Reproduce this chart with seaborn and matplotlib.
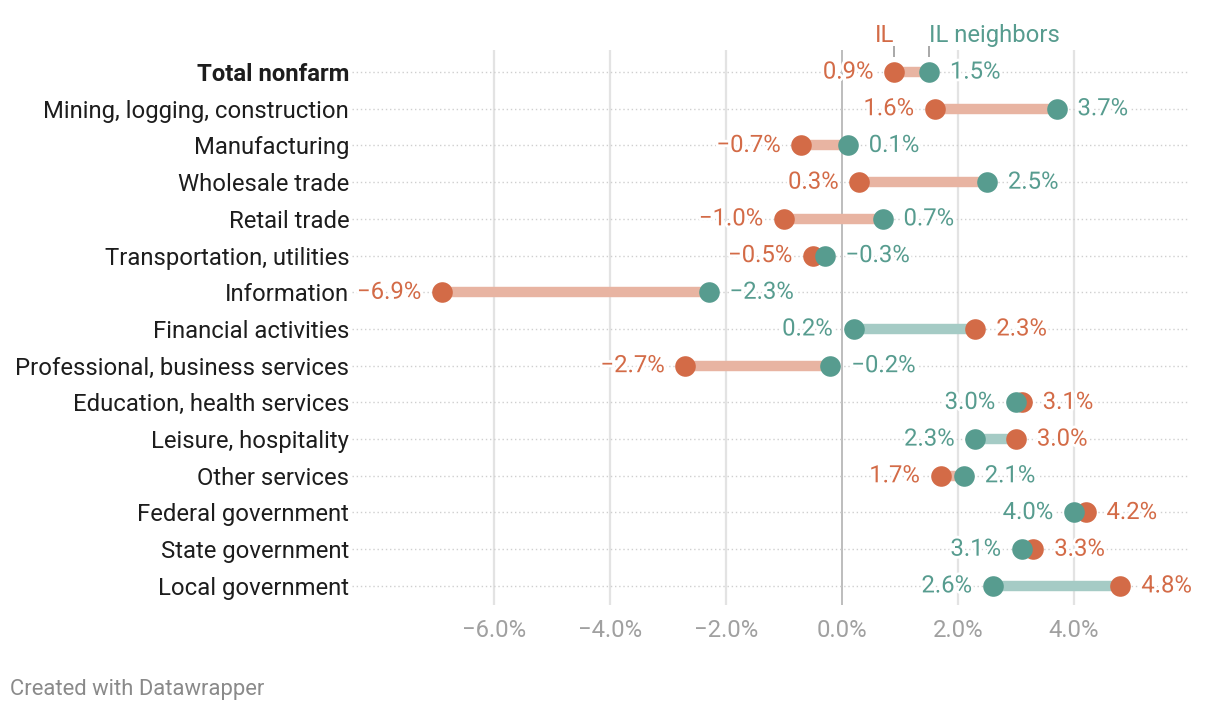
import matplotlib
matplotlib.use("Agg")
import matplotlib.pyplot as plt
import matplotlib.patheffects as pe
import seaborn as sns
import pandas as pd
import numpy as np

categories = ["Total nonfarm", "Mining, logging, construction", "Manufacturing",
              "Wholesale trade", "Retail trade", "Transportation, utilities",
              "Information", "Financial activities", "Professional, business services",
              "Education, health services", "Leisure, hospitality", "Other services",
              "Federal government", "State government", "Local government"]
il_values = [0.9, 1.6, -0.7, 0.3, -1.0, -0.5, -6.9, 2.3, -2.7, 3.1, 3.0, 1.7, 4.2, 3.3, 4.8]
nb_values = [1.5, 3.7, 0.1, 2.5, 0.7, -0.3, -2.3, 0.2, -0.2, 3.0, 2.3, 2.1, 4.0, 3.1, 2.6]
x_ticks = [-6, -4, -2, 0, 2, 4]
series_names = ["IL", "IL neighbors"]

ORANGE = "#d36b47"
TEAL = "#579c8f"
ORANGE_L = "#e8b4a2"
TEAL_L = "#a5cbc5"
FS = 17.2

sns.set_theme(style="white")
plt.rcParams["font.family"] = ["Roboto", "DejaVu Sans"]

df = pd.DataFrame({"category": categories, "IL": il_values, "NB": nb_values})
df["row"] = np.arange(len(df))

fig = plt.figure(figsize=(12.2, 7.14), dpi=100)
ax = fig.add_axes([352 / 1220, 1 - 605 / 714, (1190 - 352) / 1220, (605 - 50) / 714])

xmin, xmax = -8.45, 6.0
ax.set_xlim(xmin, xmax)
ax.set_ylim(len(df) - 0.48, -0.6)

# vertical grid
for t in x_ticks:
    ax.axvline(t, color="#bdbdbd" if t == 0 else "#e3e3e3", lw=1.4 if t == 0 else 1.6, zorder=0)
# horizontal dotted lines
ax.hlines(df["row"], xmin, 5.95, colors="#cfcfcf", linestyles=(0, (1, 2)), lw=1.0, zorder=0.5)

# range bars (colour of the lower end)
lo = df[["IL", "NB"]].min(axis=1)
hi = df[["IL", "NB"]].max(axis=1)
bar_cols = [ORANGE_L if a <= b else TEAL_L for a, b in zip(df["IL"], df["NB"])]
ax.hlines(df["row"], lo, hi, colors=bar_cols, lw=7.5, zorder=1)

sns.scatterplot(data=df, x="IL", y="row", color=ORANGE, s=220, linewidth=0, ax=ax, zorder=3)
sns.scatterplot(data=df, x="NB", y="row", color=TEAL, s=220, linewidth=0, ax=ax, zorder=4)

halo = [pe.withStroke(linewidth=4, foreground="white")]

def fmt(v):
    return f"{v:.1f}%".replace("-", "\u2212")

off = 0.36
for _, r in df.iterrows():
    pairs = [(r["IL"], ORANGE), (r["NB"], TEAL)]
    pairs.sort(key=lambda p: p[0])
    (lv, lc), (hv, hc) = pairs
    ax.text(lv - off, r["row"], fmt(lv), color=lc, ha="right", va="center",
            fontsize=FS, path_effects=halo, zorder=5)
    ax.text(hv + off, r["row"], fmt(hv), color=hc, ha="left", va="center",
            fontsize=FS, path_effects=halo, zorder=5)

# header legend above first row
ax.text(df["IL"][0], -1.0, series_names[0], color=ORANGE, ha="right", va="center",
        fontsize=FS, clip_on=False)
ax.text(df["NB"][0], -1.0, series_names[1], color=TEAL, ha="left", va="center",
        fontsize=FS, clip_on=False)
ax.vlines([df["IL"][0], df["NB"][0]], -0.72, -0.42, colors="#9a9a9a", lw=1.2, clip_on=False, zorder=2)

ax.set_yticks(df["row"])
ax.set_yticklabels(categories)
for lbl in ax.get_yticklabels():
    lbl.set_fontsize(FS)
    lbl.set_color("#1d1d1d")
ax.get_yticklabels()[0].set_fontweight("bold")
ax.tick_params(axis="y", length=0, pad=2)

ax.set_xticks(x_ticks)
ax.set_xticklabels([fmt(t) for t in x_ticks])
ax.tick_params(axis="x", length=0, pad=10, labelsize=FS, labelcolor="#a0a0a0")
ax.set_xlabel("")
ax.set_ylabel("")
for s in ax.spines.values():
    s.set_visible(False)
ax.grid(False)

fig.text(10 / 1220, 1 - 690 / 714, "Created with Datawrapper", color="#8a8a8a",
         fontsize=15.8, ha="left", va="center")

fig.savefig("out.png", dpi=100, facecolor="white")
